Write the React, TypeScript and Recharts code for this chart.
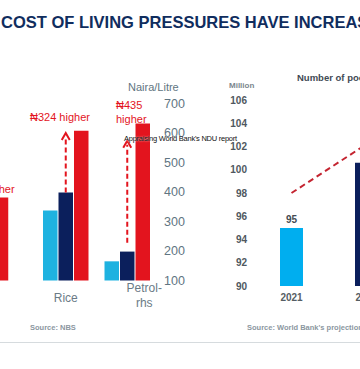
import React from 'react';
import {
  BarChart,
  ComposedChart,
  Bar,
  Line,
  XAxis,
  YAxis,
  ReferenceLine,
  LabelList,
  Cell,
} from 'recharts';

// ---- Left chart data (prices) ----
const leftCategories = ['Rice', 'Petrol-rhs'];
const priceLight = [337, 165];
const priceNavy = [398, 198];
const priceRed = [608, 632];
const leftTicks = [100, 200, 300, 400, 500, 600, 700];
const arrowBase = [398, 228];
const arrowTip = [600, 574];
const annotations = ['₦324 higher', '₦435\nhigher'];

// partially visible group at the left edge
const partialCategory = [''];
const partialRed = [381];

// ---- Right chart data (number of poor) ----
const years = ['2021', '2022'];
const poorMillions = [95, 100.6];
const trendValues = [98, 102.2];
const rightTicks = [90, 92, 94, 96, 98, 100, 102, 104, 106];

const leftData = leftCategories.map((c, i) => ({
  cat: c,
  light: priceLight[i],
  navy: priceNavy[i],
  red: priceRed[i],
}));
const partialData = partialCategory.map((c, i) => ({ cat: c, red: partialRed[i] }));
const rightData = years.map((y, i) => ({ year: y, poor: poorMillions[i], trend: trendValues[i] }));

const FONT = '"Liberation Sans", Arial, sans-serif';
const RED = '#e3141e';
const NAVY = '#0b1f5c';
const LIGHT = '#1eb2e0';
const AXIS_GREY = '#5f7582';

const ArrowShape = (p: any) => {
  const { x1, y1, x2, y2 } = p;
  const top = Math.min(y1, y2);
  const bottom = Math.max(y1, y2);
  const x = x1;
  return (
    <g>
      <line x1={x} y1={bottom} x2={x} y2={top + 4} stroke={RED} strokeWidth={2} strokeDasharray="5 3" />
      <path d={`M ${x - 4} ${top + 7} L ${x} ${top} L ${x + 4} ${top + 7}`} fill="none" stroke={RED} strokeWidth={2} />
    </g>
  );
};

const LeftTick = (p: any) => {
  const { x, y, payload, index } = p;
  const label: string = payload.value;
  const parts = label.includes('-') ? [label.split('-')[0] + '-', label.split('-')[1]] : [label];
  const dx = parts.length > 1 ? 17 : 0;
  const firstBase = parts.length > 1 ? 11.5 : 21.5;
  return (
    <g key={index}>
      {parts.map((t, i) => (
        <text
          key={i}
          x={x + dx}
          y={y + firstBase + i * 15}
          textAnchor="middle"
          fontSize={12}
          fill="#6b7b86"
          fontFamily={FONT}
        >
          {t}
        </text>
      ))}
    </g>
  );
};

const FirstBarLabel = (p: any) => {
  const { x, y, width, value, index } = p;
  if (index !== 0) return null;
  return (
    <text
      x={x + width / 2}
      y={y - 5}
      textAnchor="middle"
      fill="#444b52"
      fontSize={10}
      fontWeight={700}
      fontFamily={FONT}
    >
      {value}
    </text>
  );
};

const abs = (left: number, top: number, extra: React.CSSProperties = {}): React.CSSProperties => ({
  position: 'absolute',
  left,
  top,
  whiteSpace: 'nowrap',
  fontFamily: FONT,
  lineHeight: 1,
  ...extra,
});

export default function App() {
  return (
    <div
      style={{
        position: 'absolute',
        left: 0,
        top: 0,
        width: 360,
        height: 369,
        overflow: 'hidden',
        background: '#ffffff',
        fontFamily: FONT,
      }}
    >
      {/* Title */}
      <div style={abs(1, 14, { fontSize: 16.5, fontWeight: 700, color: '#102d5e' })}>
        COST OF LIVING PRESSURES HAVE INCREASED
      </div>

      {/* Partial left-edge group */}
      <div style={{ position: 'absolute', left: -40, top: 0 }}>
        <BarChart
          width={72}
          height={369}
          data={partialData}
          margin={{ top: 103.5, right: 0, bottom: 58.5, left: 10.25 }}
        >
          <XAxis dataKey="cat" height={30} axisLine={false} tickLine={false} tick={false} />
          <YAxis hide domain={[100, 700]} ticks={leftTicks} />
          <Bar dataKey="red" fill={RED} barSize={14} isAnimationActive={false} />
        </BarChart>
      </div>

      {/* Left chart */}
      <div style={{ position: 'absolute', left: 0, top: 0 }}>
        <BarChart
          width={200}
          height={369}
          data={leftData}
          barGap={1}
          margin={{ top: 103.5, right: 0, bottom: 58.5, left: 35 }}
        >
          <XAxis
            dataKey="cat"
            height={30}
            axisLine={false}
            tickLine={false}
            tickSize={0}
            tickMargin={0}
            interval={0}
            tick={<LeftTick />}
          />
          <YAxis
            orientation="right"
            width={42}
            domain={[100, 700]}
            ticks={leftTicks}
            axisLine={false}
            tickLine={false}
            tickSize={0}
            tickMargin={6}
            tick={{ fill: AXIS_GREY, fontSize: 12.5, fontFamily: FONT, textAnchor: 'start' }}
          />
          <Bar dataKey="light" fill={LIGHT} barSize={14.5} isAnimationActive={false} />
          <Bar dataKey="navy" fill={NAVY} barSize={14.5} isAnimationActive={false} />
          <Bar dataKey="red" fill={RED} barSize={14.5} isAnimationActive={false} />
          {leftCategories.map((c, i) => (
            <ReferenceLine
              key={c}
              segment={[
                { x: c, y: arrowBase[i] },
                { x: c, y: arrowTip[i] },
              ]}
              shape={ArrowShape}
              ifOverflow="extendDomain"
            />
          ))}
        </BarChart>
      </div>

      {/* Left chart annotations */}
      <div style={abs(128, 82, { fontSize: 11, color: AXIS_GREY })}>Naira/Litre</div>
      <div style={abs(30, 111.5, { fontSize: 11, color: RED })}>{annotations[0]}</div>
      <div style={abs(116, 97.5, { fontSize: 11, color: RED, whiteSpace: 'pre', lineHeight: '14px' })}>
        {annotations[1]}
      </div>
      <div style={abs(-16, 183.5, { fontSize: 11, color: RED })}>higher</div>

      {/* Right chart */}
      <div style={{ position: 'absolute', left: 200, top: 0 }}>
        <ComposedChart
          width={220}
          height={369}
          data={rightData}
          margin={{ top: 100, right: 16, bottom: 53, left: 0 }}
        >
          <XAxis
            dataKey="year"
            height={30}
            axisLine={false}
            tickLine={false}
            tickSize={0}
            tickMargin={8}
            interval={0}
            tick={{ fill: '#555d64', fontSize: 10, fontWeight: 700, fontFamily: FONT }}
          />
          <YAxis
            width={54}
            domain={[90, 106]}
            ticks={rightTicks}
            axisLine={false}
            tickLine={false}
            tickSize={0}
            tickMargin={7}
            tick={{ fill: '#4f5860', fontSize: 10, fontWeight: 700, fontFamily: FONT }}
          />
          <Bar dataKey="poor" barSize={23} isAnimationActive={false}>
            {rightData.map((d, i) => (
              <Cell key={d.year} fill={i === 0 ? '#00aeef' : NAVY} />
            ))}
            <LabelList dataKey="poor" content={<FirstBarLabel />} />
          </Bar>
          <Line
            dataKey="trend"
            stroke="#c42430"
            strokeWidth={2}
            strokeDasharray="6 4"
            dot={false}
            isAnimationActive={false}
          />
        </ComposedChart>
      </div>

      <div style={abs(229, 82, { fontSize: 8, fontWeight: 700, color: '#7b868d' })}>Million</div>
      <div style={abs(297, 72.5, { fontSize: 9.5, fontWeight: 700, color: '#3f4a54' })}>
        Number of poor Nigerians
      </div>

      {/* Overlay caption */}
      <div
        style={abs(124, 135, {
          fontSize: 7.5,
          color: '#111',
          letterSpacing: -0.25,
          textShadow: '0 0 2px #fff',
        })}
      >
        Appraising World Bank's NDU report
      </div>

      {/* Sources */}
      <div style={abs(30, 323.5, { fontSize: 7.5, fontWeight: 700, color: '#8b979f' })}>Source: NBS</div>
      <div style={abs(247, 323.5, { fontSize: 7.5, fontWeight: 700, color: '#8b979f' })}>
        Source: World Bank's projections
      </div>
      <div style={{ position: 'absolute', left: 0, top: 342, width: 360, height: 1, background: '#d6dbde' }} />
    </div>
  );
}
